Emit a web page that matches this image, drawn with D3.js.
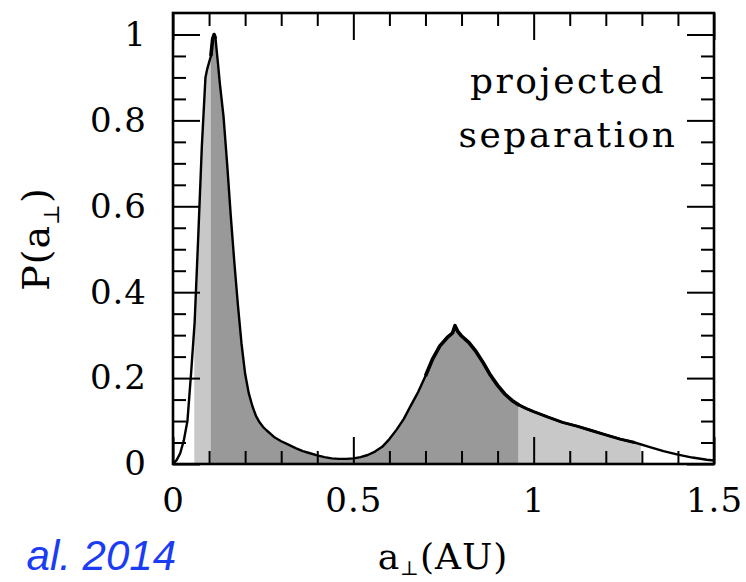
<!DOCTYPE html>
<meta charset="utf-8">
<body style="margin:0;background:#fff">
<svg width="746" height="582"></svg>
<script src="https://cdn.jsdelivr.net/npm/d3@7"></script>
<script>

    // projected separation a_perp (AU) and probability P(a_perp)
    var aVals = [0, 0.01, 0.02, 0.03, 0.04, 0.05, 0.06, 0.07, 0.08, 0.09, 0.095, 0.105, 0.11, 0.114, 0.118, 0.125,
        0.13, 0.14, 0.15, 0.16, 0.17, 0.18, 0.19, 0.20, 0.21, 0.22, 0.23, 0.24, 0.25, 0.26, 0.28, 0.30, 0.32,
        0.34, 0.36, 0.38, 0.40, 0.42, 0.44, 0.46, 0.48, 0.50, 0.52, 0.54, 0.56, 0.58, 0.60, 0.62, 0.64, 0.66,
        0.68, 0.70, 0.72, 0.74, 0.76, 0.775, 0.782, 0.79, 0.80, 0.82, 0.84, 0.86, 0.88, 0.90, 0.92, 0.94, 0.96,
        0.98, 1.00, 1.04, 1.08, 1.12, 1.16, 1.20, 1.24, 1.28, 1.32, 1.36, 1.40, 1.44, 1.48, 1.50];
    var pVals = [0, 0.009, 0.025, 0.055, 0.10, 0.21, 0.33, 0.53, 0.74, 0.90, 0.92, 0.95, 0.99, 1.0, 0.99, 0.93,
        0.885, 0.81, 0.70, 0.58, 0.47, 0.37, 0.28, 0.21, 0.165, 0.135, 0.112, 0.097, 0.086, 0.078, 0.063, 0.053, 0.045,
        0.037, 0.030, 0.025, 0.020, 0.016, 0.013, 0.012, 0.012, 0.013, 0.016, 0.021, 0.029, 0.040, 0.058, 0.080, 0.105, 0.137,
        0.168, 0.205, 0.245, 0.275, 0.294, 0.305, 0.322, 0.308, 0.298, 0.283, 0.262, 0.236, 0.207, 0.183, 0.163, 0.148, 0.137,
        0.129, 0.122, 0.109, 0.097, 0.088, 0.078, 0.068, 0.058, 0.050, 0.040, 0.030, 0.022, 0.015, 0.010, 0.008];

    // shaded intervals
    var outerRange = [0.059, 1.297];
    var innerRange = [0.105, 0.957];

    // stretches where the histogram is noisy (drawn with a heavier line)
    var noisyRanges = [[0.105, 0.118, 3.6], [0.70, 0.96, 3.6], [0.96, 1.28, 2.9]];

    var xMajor = [0, 0.5, 1, 1.5];
    var xMinor = [0.1, 0.2, 0.3, 0.4, 0.6, 0.7, 0.8, 0.9, 1.1, 1.2, 1.3, 1.4];
    var yMajor = [0, 0.2, 0.4, 0.6, 0.8, 1];
    var yMinor = [0.05, 0.1, 0.15, 0.25, 0.3, 0.35, 0.45, 0.5, 0.55, 0.65, 0.7, 0.75, 0.85, 0.9, 0.95];

    var data = aVals.map(function (a, i) { return {a: a, p: pVals[i]}; });

    var svg = d3.select("svg");
    var margin = {top: 13, right: 32, bottom: 118, left: 173},
        width = +svg.attr("width") - margin.left - margin.right,
        height = +svg.attr("height") - margin.top - margin.bottom;

    var x = d3.scaleLinear().domain([0, 1.5]).range([0, width]);
    var y = d3.scaleLinear().domain([0, 1.05]).range([height, 0]);

    var g = svg.append("g")
        .attr("transform", "translate(" + margin.left + "," + margin.top + ")");

    var defs = svg.append("defs");
    function band(id, r) {
        defs.append("clipPath").attr("id", id)
            .append("rect")
            .attr("x", x(r[0])).attr("y", 0)
            .attr("width", x(r[1]) - x(r[0])).attr("height", height);
    }
    band("outer", outerRange);
    band("inner", innerRange);

    var area = d3.area()
        .x(function (d) { return x(d.a); })
        .y0(height)
        .y1(function (d) { return y(d.p); });

    g.append("path").datum(data)
        .attr("clip-path", "url(#outer)")
        .attr("fill", "#c8c8c8")
        .attr("d", area);
    g.append("path").datum(data)
        .attr("clip-path", "url(#inner)")
        .attr("fill", "#999999")
        .attr("d", area);

    var line = d3.line()
        .x(function (d) { return x(d.a); })
        .y(function (d) { return y(d.p); });

    g.append("path").datum(data)
        .attr("fill", "none")
        .attr("stroke", "#000")
        .attr("stroke-width", 2.4)
        .attr("stroke-linejoin", "round")
        .attr("d", line);

    noisyRanges.forEach(function (r) {
        g.append("path")
            .datum(data.filter(function (d) { return d.a >= r[0] && d.a <= r[1]; }))
            .attr("fill", "none")
            .attr("stroke", "#000")
            .attr("stroke-width", r[2])
            .attr("stroke-linejoin", "round")
            .attr("d", line);
    });

    // axes: ticks point inward, long majors and short minors
    var fmt = function (d) { return d3.format("")(+d.toFixed(2)); };
    function styleAxis(sel) {
        sel.select(".domain").remove();
        sel.selectAll("line").attr("stroke", "#000").attr("stroke-width", 2);
        sel.selectAll("text")
            .attr("fill", "#000")
            .style("font-family", "'DejaVu Serif', serif")
            .style("font-size", "34px")
            .style("letter-spacing", "1px");
    }

    g.append("g").attr("transform", "translate(0," + height + ")")
        .call(d3.axisBottom(x).tickValues(xMajor).tickSize(-27).tickPadding(24).tickFormat(fmt))
        .call(styleAxis);
    g.append("g").attr("transform", "translate(0," + height + ")")
        .call(d3.axisBottom(x).tickValues(xMinor).tickSize(-13).tickFormat(""))
        .call(styleAxis);
    g.append("g")
        .call(d3.axisTop(x).tickValues(xMajor).tickSize(-27).tickFormat(""))
        .call(styleAxis);
    g.append("g")
        .call(d3.axisTop(x).tickValues(xMinor).tickSize(-13).tickFormat(""))
        .call(styleAxis);

    g.append("g")
        .call(d3.axisLeft(y).tickValues(yMajor).tickSize(-27).tickPadding(26).tickFormat(fmt))
        .call(styleAxis);
    g.append("g")
        .call(d3.axisLeft(y).tickValues(yMinor).tickSize(-13).tickFormat(""))
        .call(styleAxis);
    g.append("g").attr("transform", "translate(" + width + ",0)")
        .call(d3.axisRight(y).tickValues(yMajor).tickSize(-27).tickFormat(""))
        .call(styleAxis);
    g.append("g").attr("transform", "translate(" + width + ",0)")
        .call(d3.axisRight(y).tickValues(yMinor).tickSize(-13).tickFormat(""))
        .call(styleAxis);

    // frame
    g.append("rect")
        .attr("width", width).attr("height", height)
        .attr("fill", "none").attr("stroke", "#000").attr("stroke-width", 2.6);

    var serif = "'DejaVu Serif', serif";

    // corner label
    var note = g.append("text")
        .attr("text-anchor", "middle")
        .style("font-family", serif)
        .style("font-size", "36px")
        .style("letter-spacing", "2.5px");
    note.append("tspan").attr("x", 395).attr("y", 80).text("projected");
    note.append("tspan").attr("x", 395).attr("y", 134).text("separation");

    // x label
    var xl = svg.append("text")
        .attr("x", 443).attr("y", 569)
        .attr("text-anchor", "middle")
        .style("font-family", serif)
        .style("font-size", "36px")
        .style("letter-spacing", "1px");
    xl.append("tspan").text("a");
    xl.append("tspan").attr("dy", 6).style("font-size", "20px").text("\u22a5");
    xl.append("tspan").attr("dy", -6).text("(AU)");

    // y label
    var yl = svg.append("text")
        .attr("transform", "translate(49,239) rotate(-90)")
        .attr("text-anchor", "middle")
        .style("font-family", serif)
        .style("font-size", "38px")
        .style("letter-spacing", "1px");
    yl.append("tspan").text("P(a");
    yl.append("tspan").attr("dy", 10).style("font-size", "22px").text("\u22a5");
    yl.append("tspan").attr("dy", -10).text(")");

    // citation fragment
    svg.append("text")
        .attr("x", 176).attr("y", 570)
        .attr("text-anchor", "end")
        .attr("fill", "#1a3cf5")
        .style("font-family", "'Liberation Sans', Arial, sans-serif")
        .style("font-style", "italic")
        .style("font-size", "42px")
        .text("al. 2014");

</script>
</body>
